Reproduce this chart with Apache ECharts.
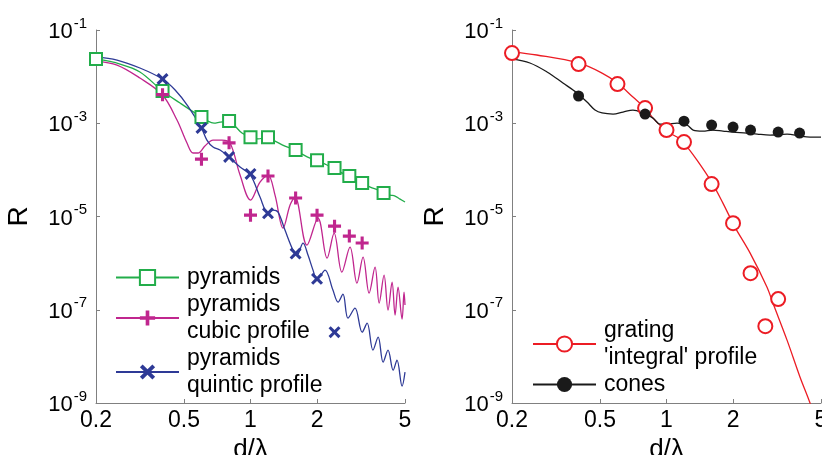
<!DOCTYPE html>
<html><head><meta charset="utf-8">
<script src="https://cdn.jsdelivr.net/npm/echarts@6/dist/echarts.min.js"></script>
<style>html,body{margin:0;padding:0;background:#fff}#c{width:822px;height:455px}</style>
</head><body><div id="c"></div><script>
// ---- tick values ----
const xTicks = [0.2, 0.5, 1, 2, 5];
const yTicks = [1e-9, 1e-7, 1e-5, 1e-3, 1e-1];

// ---- left panel: pyramids ----
const pyramidsCurve = [[0.2,2.39e-2],[0.257,1.86e-2],[0.316,1.26e-2],[0.4,4.91e-3],[0.48,2.71e-3],[0.561,1.66e-3],[0.603,1.36e-3],[0.642,1.11e-3],[0.684,1.01e-3],[0.728,1.06e-3],[0.8,1.11e-3],[0.851,8.71e-4],[0.915,6.17e-4],[1.0,5.06e-4],[1.082,4.6e-4],[1.188,5.06e-4],[1.291,4.15e-4],[1.432,3.24e-4],[1.59,2.66e-4],[1.71,2.18e-4],[1.858,1.79e-4],[2.0,1.62e-4],[2.175,1.33e-4],[2.36,1.09e-4],[2.54,8.97e-5],[2.79,7.36e-5],[3.0,6.04e-5],[3.23,5.21e-5],[3.48,4.28e-5],[3.78,3.69e-5],[4.02,3.18e-5],[4.28,2.88e-5],[4.51,2.74e-5],[4.75,2.36e-5],[5.0,2.04e-5]];
const pyramidsMarks = [[0.2,2.4e-2],[0.4,4.9e-3],[0.6,1.36e-3],[0.8,1.12e-3],[1.0,5.0e-4],[1.2,5.0e-4],[1.6,2.66e-4],[2.0,1.6e-4],[2.4,1.1e-4],[2.8,7.4e-5],[3.2,5.2e-5],[4.0,3.2e-5]];

// ---- left panel: pyramids, cubic profile ----
const cubicCurve = [[0.2,2.16e-2],[0.249,1.77e-2],[0.316,9.33e-3],[0.4,4.03e-3],[0.465,1.17e-3],[0.516,3.76e-4],[0.55,2.3e-4],[0.579,2.3e-4],[0.622,3.24e-4],[0.677,4.36e-4],[0.743,4.36e-4],[0.808,3.76e-4],[0.897,7.73e-5],[1.0,2.25e-5],[1.104,5.47e-5],[1.2,7.73e-5],[1.291,2.88e-5],[1.404,5.64e-6],[1.51,1.76e-5],[1.59,2.61e-5],[1.80,2.43e-6],[2.02,9.25e-6],[2.22,1.28e-6],[2.39,4.4e-6],[2.59,6.41e-7],[2.82,2.2e-6],[3.03,3.72e-7],[3.23,1.35e-6],[3.44,2.27e-7],[3.66,8.2e-7],[3.82,1.39e-7],[4.02,5.52e-7],[4.19,9.8e-8],[4.37,3.91e-7],[4.51,7.66e-8],[4.65,3.05e-7],[4.85,6.28e-8],[4.95,2.39e-7],[5.0,1.26e-7]];
const cubicMarks = [[0.4,4.1e-3],[0.6,1.7e-4],[0.8,3.8e-4],[1.0,1.07e-5],[1.2,7.4e-5],[1.6,2.5e-5],[2.0,1.07e-5],[2.4,6.2e-6],[2.8,3.8e-6],[3.2,2.7e-6]];

// ---- left panel: pyramids, quintic profile ----
const quinticCurve = [[0.2,2.64e-2],[0.249,2.27e-2],[0.316,1.53e-2],[0.4,8.88e-3],[0.456,5.16e-3],[0.521,2.34e-3],[0.6,7.89e-4],[0.635,4.36e-4],[0.677,3.08e-4],[0.728,2.66e-4],[0.8,1.88e-4],[0.897,1.15e-4],[1.0,7.73e-5],[1.104,2.61e-5],[1.2,1.18e-5],[1.264,1.37e-5],[1.332,1.24e-5],[1.432,5.11e-6],[1.557,1.9e-6],[1.624,1.49e-6],[1.729,2.69e-6],[1.82,1.49e-6],[1.918,7.08e-7],[2.0,4.32e-7],[2.064,5.26e-7],[2.175,7.08e-7],[2.36,2.64e-7],[2.49,1.46e-7],[2.62,2.16e-7],[2.76,6.61e-8],[2.97,1.08e-7],[3.20,3.3e-8],[3.37,5.15e-8],[3.58,1.36e-8],[3.78,2.58e-8],[3.98,7.52e-9],[4.19,1.36e-8],[4.42,5.06e-9],[4.60,8.28e-9],[4.85,2.3e-9],[5.0,4.58e-9]];
const quinticMarks = [[0.4,8.9e-3],[0.6,7.9e-4],[0.8,1.9e-4],[1.0,8.2e-5],[1.2,1.17e-5],[1.6,1.6e-6],[2.0,4.6e-7],[2.4,3.3e-8]];

// ---- right panel: grating 'integral' profile ----
const gratingCurve = [[0.2,3.4e-2],[0.259,2.91e-2],[0.4,1.96e-2],[0.511,1.19e-2],[0.6,7.29e-3],[0.705,3.65e-3],[0.8,2.12e-3],[0.869,1.29e-3],[1.0,6.8e-4],[1.116,5.06e-4],[1.19,3.95e-4],[1.374,1.62e-4],[1.61,5.21e-5],[1.80,1.94e-5],[2.04,5.93e-6],[2.39,1.64e-6],[2.85,3.05e-7],[3.03,1.39e-7],[3.51,2.23e-8],[4.02,3.58e-9],[4.46,1.0e-9],[4.70,4.3e-10]];
const gratingMarks = [[0.2,3.2e-2],[0.4,1.86e-2],[0.6,6.93e-3],[0.8,2.12e-3],[1.0,7.15e-4],[1.2,3.95e-4],[1.6,4.95e-5],[2.0,7.2e-6],[2.4,6.1e-7],[2.8,4.45e-8],[3.2,1.69e-7]];

// ---- right panel: cones ----
const conesCurve = [[0.2,2.39e-2],[0.241,1.96e-2],[0.288,1.26e-2],[0.34,7.29e-3],[0.394,4.45e-3],[0.437,2.85e-3],[0.475,1.92e-3],[0.511,1.66e-3],[0.573,1.57e-3],[0.636,1.74e-3],[0.705,1.92e-3],[0.783,1.66e-3],[0.869,1.29e-3],[0.934,9.6e-4],[1.0,9.6e-4],[1.116,1.01e-3],[1.24,9.14e-4],[1.32,7.15e-4],[1.46,6.8e-4],[1.62,7.15e-4],[1.80,6.8e-4],[2.0,6.47e-4],[2.31,6.17e-4],[2.57,5.86e-4],[2.94,5.58e-4],[3.51,5.86e-4],[4.02,5.31e-4],[4.46,5.06e-4],[5.0,5.06e-4]];
const conesMarks = [[0.4,3.84e-3],[0.8,1.57e-3],[1.2,1.11e-3],[1.6,9.14e-4],[2.0,8.28e-4],[2.4,7.15e-4],[3.2,6.47e-4],[4.0,6.17e-4]];

const names = ['pyramids', 'pyramids\ncubic profile', 'pyramids\nquintic profile', "grating\n'integral' profile", 'cones'];
const colors = ['#22ad4a', '#c0268e', '#2e3a96', '#ec1c24', '#1a1a1a'];

const FONT = '"Liberation Sans", Arial, sans-serif';
const PLUS = 'path://M3.8,0H6.2V3.8H10V6.2H6.2V10H3.8V6.2H0V3.8H3.8Z';
const CROSS = 'path://M0,1.8L1.8,0L5,3.2L8.2,0L10,1.8L6.8,5L10,8.2L8.2,10L5,6.8L1.8,10L0,8.2L3.2,5Z';
const AX = '#808080';

function xAxis(i) {
  return {
    type: 'log', logBase: 10, min: 0.2, max: 5, gridIndex: i,
    axisLine: { show: true, lineStyle: { color: AX, width: 1 } },
    axisTick: { show: true, inside: true, length: 4, customValues: xTicks, lineStyle: { color: AX } },
    minorTick: { show: false }, splitLine: { show: false },
    axisLabel: { customValues: xTicks, color: '#000', fontSize: 23, fontFamily: FONT, margin: 6,
      formatter: v => String(v) },
    name: 'd/λ', nameLocation: 'middle', nameGap: 29,
    nameTextStyle: { fontSize: 26, color: '#000', fontFamily: FONT }
  };
}
function yAxis(i) {
  return {
    type: 'log', logBase: 10, min: 1e-9, max: 1e-1, gridIndex: i,
    axisLine: { show: true, lineStyle: { color: AX, width: 1 } },
    axisTick: { show: true, inside: true, length: 4, customValues: yTicks, lineStyle: { color: AX } },
    minorTick: { show: false }, splitLine: { show: false },
    axisLabel: { customValues: yTicks, margin: 9,
      formatter: v => '{b|10}{s|' + Math.round(Math.log10(v)) + '}',
      rich: {
        b: { fontSize: 22, lineHeight: 22, padding: [4, 0, 0, 0], color: '#000', fontFamily: FONT },
        s: { fontSize: 15, lineHeight: 15, padding: [0, 0, 13, 1], color: '#000', fontFamily: FONT }
      } },
    name: 'R', nameLocation: 'middle', nameRotate: 90, nameGap: 63,
    nameTextStyle: { fontSize: 28, color: '#000', fontFamily: FONT }
  };
}
function curve(k, data, gi, symbol) {
  return { type: 'line', name: names[k], data: data, xAxisIndex: gi, yAxisIndex: gi,
    symbol: symbol, showSymbol: false, smooth: 0.35, silent: true,
    lineStyle: { color: colors[k], width: 1.3 }, itemStyle: { color: colors[k], borderWidth: 3 }, z: 2 };
}
function marks(k, data, gi, symbol, size, extra) {
  const base = { type: 'scatter', name: names[k] + ' markers', data: data, xAxisIndex: gi, yAxisIndex: gi,
    symbol: symbol, symbolSize: size, silent: true,
    itemStyle: { color: colors[k], borderColor: colors[k], borderWidth: 3, opacity: 1 }, z: 3 };
  if (extra) base.itemStyle = Object.assign(base.itemStyle, extra);
  return base;
}
const legendCommon = {
  orient: 'vertical', itemWidth: 63, itemHeight: 19, itemGap: 0, padding: 0, selectedMode: false,
  textStyle: { fontSize: 23, lineHeight: 27, color: '#000', fontFamily: FONT, padding: [0, 0, 0, 3] }
};

const chart = echarts.init(document.getElementById('c'), null, { renderer: 'canvas' });
chart.setOption({
  animation: false,
  backgroundColor: '#fff',
  grid: [
    { left: 96, top: 30, width: 309, height: 373, outerBoundsMode: 'none', containLabel: false },
    { left: 512, top: 30, width: 309, height: 373, outerBoundsMode: 'none', containLabel: false }
  ],
  xAxis: [xAxis(0), xAxis(1)],
  yAxis: [yAxis(0), yAxis(1)],
  legend: [
    Object.assign({ data: names.slice(0, 3), left: 115, top: 264 }, legendCommon),
    Object.assign({ data: names.slice(3), left: 532, top: 317 }, legendCommon)
  ],
  series: [
    curve(0, pyramidsCurve, 0, 'emptyRect'),
    curve(1, cubicCurve, 0, PLUS),
    curve(2, quinticCurve, 0, CROSS),
    curve(3, gratingCurve, 1, 'emptyCircle'),
    curve(4, conesCurve, 1, 'circle'),
    marks(0, pyramidsMarks, 0, 'emptyRect', 12),
    marks(1, cubicMarks, 0, PLUS, 13, { borderWidth: 0 }),
    marks(2, quinticMarks, 0, CROSS, 12, { borderWidth: 0 }),
    marks(3, gratingMarks, 1, 'emptyCircle', 14),
    marks(4, conesMarks, 1, 'circle', 11, { borderWidth: 0 })
  ]
});
</script></body></html>
